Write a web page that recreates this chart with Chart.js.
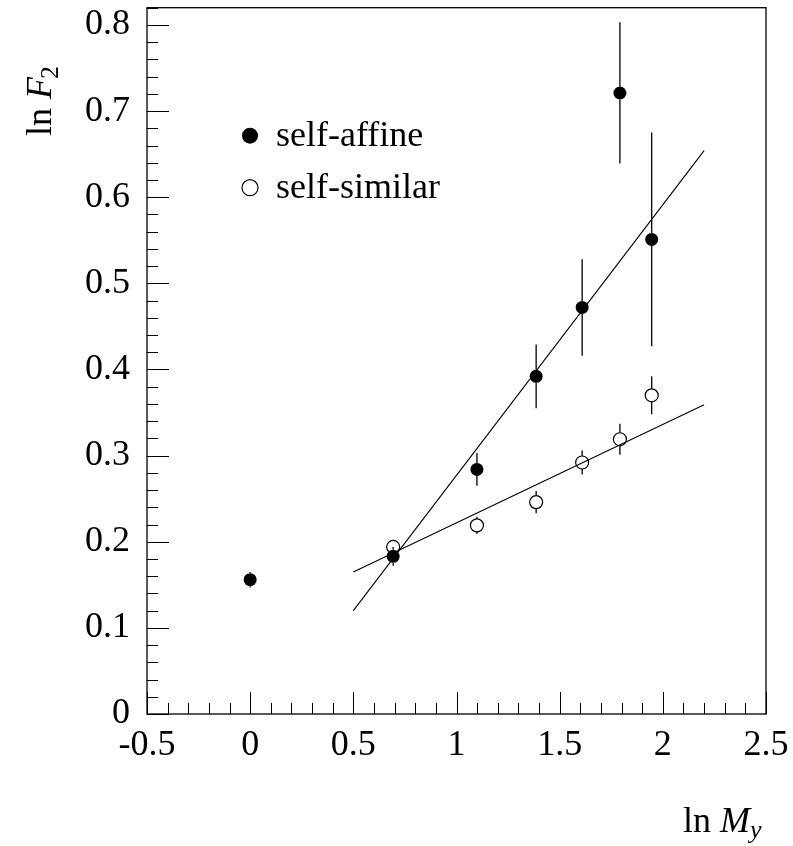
<!DOCTYPE html>
<html>
<head>
<meta charset="utf-8">
<script src="https://cdn.jsdelivr.net/npm/chart.js@4.4.1/dist/chart.umd.min.js"></script>
<style>
  html, body { margin: 0; padding: 0; background: #fff; }
  #wrap { width: 793px; height: 846px; position: relative; }
</style>
</head>
<body>
<div id="wrap"><canvas id="lnf2"></canvas></div>
<script>
// ln M_y values and ln F_2 moments
const lnM = [0, 0.693, 1.099, 1.386, 1.609, 1.792, 1.946];
const affineF2 = [0.156, 0.183, 0.284, 0.392, 0.472, 0.721, 0.551];
const affineErr = [0.009, 0.011, 0.019, 0.037, 0.056, 0.082, 0.124];

const simM = [0.693, 1.099, 1.386, 1.609, 1.792, 1.946];
const similarF2 = [0.194, 0.219, 0.246, 0.292, 0.319, 0.370];
const similarErr = [0.008, 0.010, 0.013, 0.014, 0.018, 0.022];

// straight line fits
const fitX = [0.5, 2.2];
const affineFit = [0.120, 0.654];
const similarFit = [0.165, 0.359];

const xTicks = [-0.5, 0, 0.5, 1, 1.5, 2, 2.5];
const yTicks = [0, 0.1, 0.2, 0.3, 0.4, 0.5, 0.6, 0.7, 0.8];

const FONT = "'Liberation Serif', 'Times New Roman', serif";

function pts(xs, ys) {
    return xs.map((x, i) => ({x: x, y: ys[i]}));
}

function noPad(s) {
    s.paddingTop = 0; s.paddingBottom = 0;
    s.paddingLeft = 0; s.paddingRight = 0;
}

// error bars, stopping at the marker edge
const errBars = {
    id: 'errBars',
    afterDatasetsDraw(chart) {
        const ctx = chart.ctx;
        const y = chart.scales.y;
        ctx.save();
        ctx.strokeStyle = '#000';
        ctx.lineWidth = 1.3;
        chart.data.datasets.forEach((ds, di) => {
            if (!ds.yErr) return;
            const meta = chart.getDatasetMeta(di);
            meta.data.forEach((el, i) => {
                const e = ds.yErr[i];
                const v = ds.data[i].y;
                const top = y.getPixelForValue(v + e);
                const bot = y.getPixelForValue(v - e);
                const r = ds.pointRadius;
                ctx.beginPath();
                if (el.y - top > r) { ctx.moveTo(el.x, top); ctx.lineTo(el.x, el.y - r); }
                if (bot - el.y > r) { ctx.moveTo(el.x, el.y + r); ctx.lineTo(el.x, bot); }
                ctx.stroke();
            });
        });
        ctx.restore();
    }
};

// box frame, inward ticks, legend and axis titles
const decor = {
    id: 'decor',
    afterDraw(chart) {
        const ctx = chart.ctx;
        const a = chart.chartArea;
        const xs = chart.scales.x, ys = chart.scales.y;
        ctx.save();
        ctx.strokeStyle = '#000';
        ctx.lineWidth = 1.3;
        ctx.strokeRect(a.left, a.top, a.right - a.left, a.bottom - a.top);

        ctx.lineWidth = 1;
        ctx.beginPath();
        for (let i = 0; i <= 41; i++) {
            const py = Math.round(ys.getPixelForValue(i * 0.02)) + 0.5;
            if (py < a.top) break;
            const len = (i % 5 === 0) ? 22 : 11;
            ctx.moveTo(a.left, py); ctx.lineTo(a.left + len, py);
        }
        for (let i = 0; i <= 30; i++) {
            const px = Math.round(xs.getPixelForValue(-0.5 + i * 0.1)) + 0.5;
            const len = (i % 5 === 0) ? 22 : 11;
            ctx.moveTo(px, a.bottom); ctx.lineTo(px, a.bottom - len);
        }
        ctx.stroke();

        // legend
        const lx = a.left + 103;
        const items = [chart.data.datasets[0], chart.data.datasets[1]];
        items.forEach((ds, k) => {
            const cy = a.top + 128 + k * 52;
            ctx.beginPath();
            ctx.arc(lx, cy, 8, 0, Math.PI * 2);
            if (ds.backgroundColor === '#000') { ctx.fillStyle = '#000'; ctx.fill(); }
            else { ctx.lineWidth = 1.2; ctx.stroke(); }
            ctx.fillStyle = '#000';
            ctx.font = '36px ' + FONT;
            ctx.textBaseline = 'alphabetic';
            ctx.textAlign = 'left';
            ctx.fillText(ds.label, lx + 26, cy + 10);
        });

        // x title: ln M_y
        ctx.textBaseline = 'alphabetic';
        let tx = 683, ty = 832;
        ctx.font = '36px ' + FONT;
        ctx.fillText('ln', tx, ty);
        tx += ctx.measureText('ln').width + 9;
        ctx.font = 'italic 36px ' + FONT;
        ctx.fillText('M', tx, ty);
        tx += ctx.measureText('M').width;
        ctx.font = 'italic 26px ' + FONT;
        ctx.fillText('y', tx, ty + 6);

        // y title: ln F_2 (rotated)
        ctx.translate(51, 136);
        ctx.rotate(-Math.PI / 2);
        let t = 0;
        ctx.font = '36px ' + FONT;
        ctx.fillText('ln', t, 0);
        t += ctx.measureText('ln').width + 9;
        ctx.font = 'italic 36px ' + FONT;
        ctx.fillText('F', t, 0);
        t += ctx.measureText('F').width - 2;
        ctx.font = '26px ' + FONT;
        ctx.fillText('2', t, 7);
        ctx.restore();
    }
};

const ctx = document.getElementById('lnf2').getContext('2d');
const chart = new Chart(ctx, {
    type: 'scatter',
    data: {
        datasets: [{
            label: 'self-affine',
            data: pts(lnM, affineF2),
            yErr: affineErr,
            backgroundColor: '#000',
            borderColor: '#000',
            pointRadius: 6.5,
            pointHoverRadius: 6.5,
            borderWidth: 0,
            order: 1
        }, {
            label: 'self-similar',
            data: pts(simM, similarF2),
            yErr: similarErr,
            backgroundColor: 'rgba(0,0,0,0)',
            borderColor: '#000',
            pointRadius: 6.5,
            pointHoverRadius: 6.5,
            pointBorderWidth: 1.2,
            borderWidth: 1.2,
            order: 2
        }, {
            type: 'line',
            label: 'fit affine',
            data: pts(fitX, affineFit),
            borderColor: '#000',
            borderWidth: 1.1,
            pointRadius: 0,
            fill: false,
            order: 3
        }, {
            type: 'line',
            label: 'fit similar',
            data: pts(fitX, similarFit),
            borderColor: '#000',
            borderWidth: 1.1,
            pointRadius: 0,
            fill: false,
            order: 4
        }]
    },
    options: {
        responsive: true,
        maintainAspectRatio: false,
        animation: false,
        layout: { padding: { top: 7, right: 27, left: 0, bottom: 0 } },
        plugins: {
            legend: { display: false },
            tooltip: { enabled: false }
        },
        scales: {
            x: {
                type: 'linear',
                min: -0.5,
                max: 2.5,
                grid: { display: false },
                border: { display: false },
                afterBuildTicks: s => { s.ticks = xTicks.map(v => ({value: v})); },
                afterFit: s => { s.height = 132; noPad(s); },
                ticks: {
                    color: '#000',
                    padding: 2,
                    maxRotation: 0,
                    font: { family: FONT, size: 36 },
                    callback: v => String(v)
                }
            },
            y: {
                type: 'linear',
                min: 0,
                max: 0.82,
                grid: { display: false },
                border: { display: false },
                afterBuildTicks: s => { s.ticks = yTicks.map(v => ({value: v})); },
                afterFit: s => { s.width = 147; noPad(s); },
                ticks: {
                    color: '#000',
                    padding: 9,
                    font: { family: FONT, size: 36 },
                    callback: v => String(v)
                }
            }
        }
    },
    plugins: [errBars, decor]
});
</script>
</body>
</html>
